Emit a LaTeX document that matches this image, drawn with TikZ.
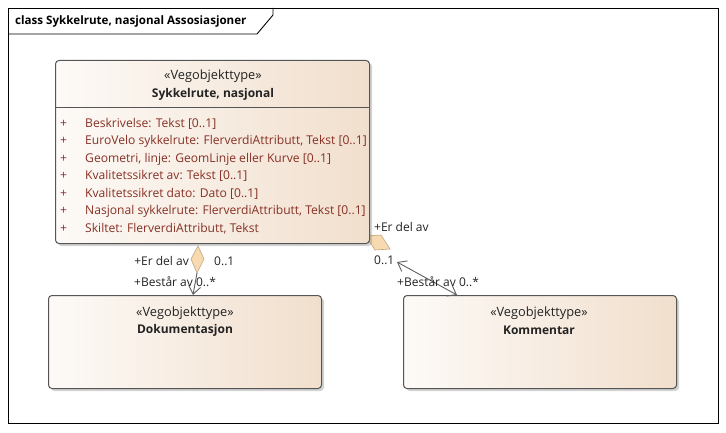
\documentclass[tikz,border=0pt]{standalone}
\usepackage{fontspec}
\setmainfont{Open Sans}
\usetikzlibrary{arrows.meta,shadows}
\definecolor{gradL}{RGB}{253,250,247}
\definecolor{gradR}{RGB}{241,223,205}
\definecolor{bord}{RGB}{85,85,85}
\definecolor{attr}{RGB}{135,48,36}
\definecolor{txt}{RGB}{35,35,35}
\definecolor{diafill}{RGB}{248,218,176}
\definecolor{diaedge}{RGB}{190,165,130}
\definecolor{conn}{RGB}{95,95,95}
\tikzset{
  classbox/.style={draw=bord, line width=1pt, rounded corners=3.5pt, left color=gradL, right color=gradR,
    drop shadow={shadow xshift=2.5pt, shadow yshift=-2.5pt, opacity=0.35, fill=gray}, inner sep=0pt},
  stereo/.style={font=\fontsize{12.8}{14}\selectfont, text=txt},
  cname/.style={font=\fontsize{12}{14}\selectfont\bfseries, text=txt},
  attrtxt/.style={anchor=west, inner sep=0pt, font=\fontsize{12.1}{14}\selectfont, text=attr},
  lbl/.style={inner sep=0pt, font=\fontsize{12}{14}\selectfont, text=txt},
  aggr/.style={fill=diafill, draw=diaedge, line width=0.6pt},
  assoc/.style={draw=conn, line width=0.9pt},
  vtip/.tip={Straight Barb[length=8pt,width=12pt,line width=0.9pt]}
}
\begin{document}
\begin{tikzpicture}[x=1pt,y=-1pt]
\useasboundingbox (0,0) rectangle (726,433);
% frame
\draw[black, line width=0.9pt] (8,8) rectangle (718,423);
\draw[black, line width=0.9pt] (8,34) -- (257,34) -- (273,15) -- (273,8);
\node[anchor=west, inner sep=0pt, font=\fontsize{11.6}{13}\selectfont\bfseries, text=black] (title) at (15,21) {class Sykkelrute, nasjonal Assosiasjoner};

% aggregation diamond of connector 2 (partly behind the box)
\path[aggr] (366,236) -- (375,250) -- (390,249) -- (381,235) -- cycle;

% classes
\node[classbox, anchor=north west, minimum width=314pt, minimum height=183pt] (main) at (55,60) {};
\node[classbox, anchor=north west, minimum width=273pt, minimum height=93pt] (dok) at (48,295) {};
\node[classbox, anchor=north west, minimum width=273pt, minimum height=93pt] (kom) at (403,295) {};

\draw[bord, line width=1pt] (main.west |- 0,108) -- (main.east |- 0,108);

\node[stereo] (mainst) at (213,76) {«Vegobjekttype»};
\node[cname] (mainnm) at (213,94) {Sykkelrute, nasjonal};
\node[stereo] (dokst) at (185,313) {«Vegobjekttype»};
\node[cname] (doknm) at (185,330) {Dokumentasjon};
\node[stereo] (komst) at (539,313) {«Vegobjekttype»};
\node[cname] (komnm) at (539,330) {Kommentar};

\foreach \yy/\tt [count=\i] in {124/{Beskrivelse: Tekst [0..1]},
  141/{EuroVelo sykkelrute: FlerverdiAttributt, Tekst [0..1]},
  159/{Geometri, linje: GeomLinje eller Kurve [0..1]},
  176/{Kvalitetssikret av: Tekst [0..1]},
  194/{Kvalitetssikret dato: Dato [0..1]},
  211/{Nasjonal sykkelrute: FlerverdiAttributt, Tekst [0..1]},
  229/{Skiltet: FlerverdiAttributt, Tekst}} {
  \node[attrtxt] (p\i) at (60,\yy) {+};
  \node[attrtxt] (a\i) at (85,\yy) {\tt};
}

% connector 1
\path[aggr] (198,246) -- (204,259) -- (197,273) -- (191,259) -- cycle;
\coordinate (c1a) at (197,273);
\coordinate (c1b) at (193,295);
\draw[assoc, -{vtip}] (c1a) -- (c1b);
\node[lbl, anchor=east] (l1a) at (189,261) {+Er del av};
\node[lbl, anchor=west] (l1b) at (214,261) {0..1};
\node[lbl, anchor=west] (l1c) at (134,282) {+Består av 0..*};

% connector 2
\coordinate (c2a) at (397,262);
\coordinate (c2b) at (457,295);
\draw[assoc, {vtip}-{vtip}] (c2a) -- (c2b);
\node[lbl, anchor=west] (l2a) at (374,227) {+Er del av};
\node[lbl, anchor=west] (l2b) at (374,260) {0..1};
\node[lbl, anchor=west] (l2c) at (397,282) {+Består av 0..*};
\end{tikzpicture}
\end{document}
